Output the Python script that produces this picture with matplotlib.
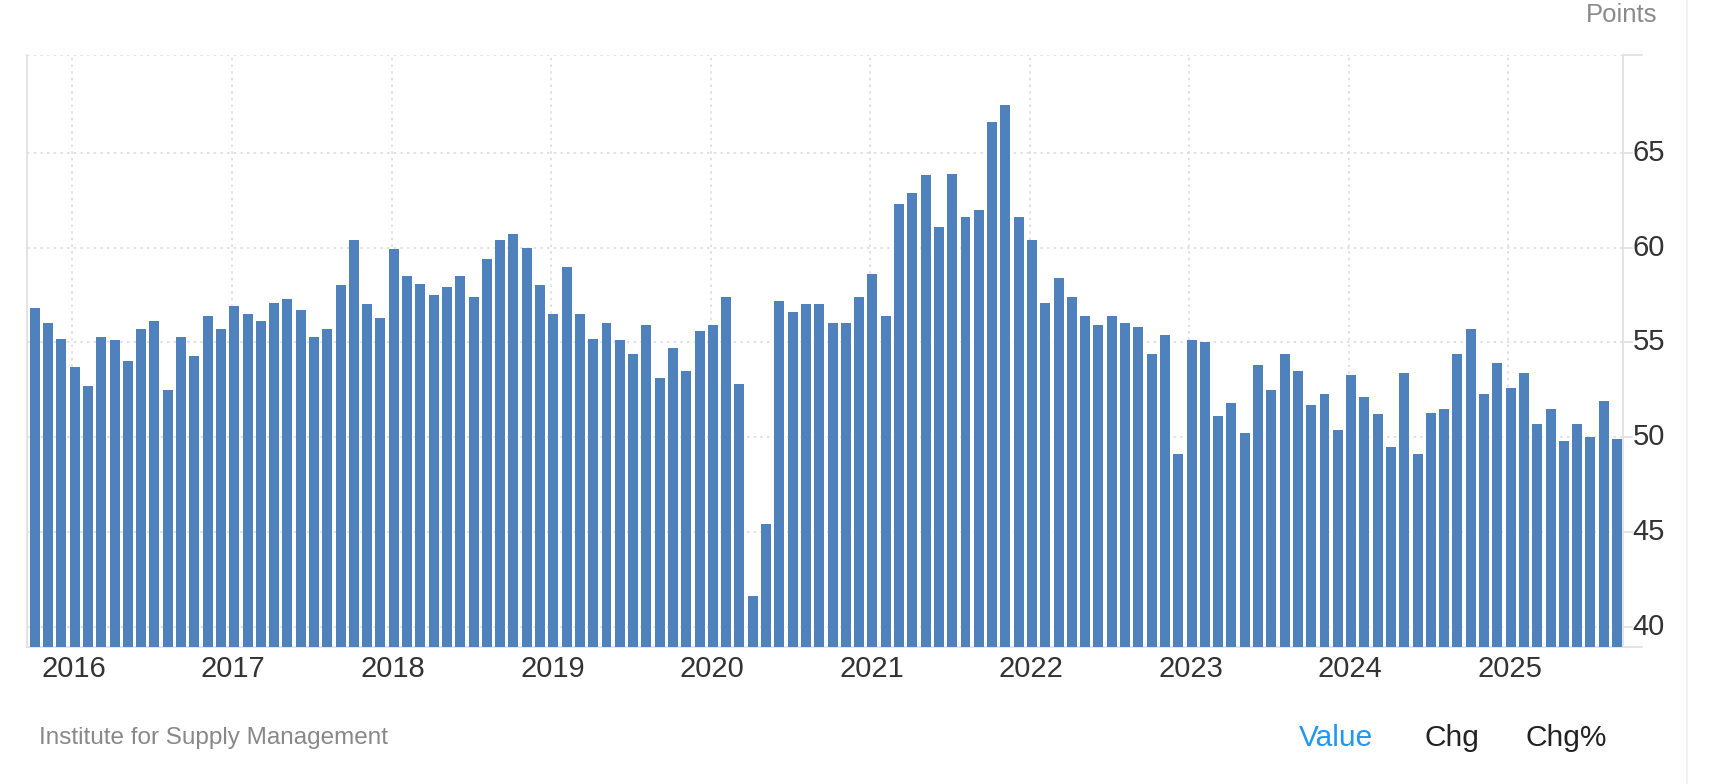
import numpy as np
import pandas as pd
import matplotlib
matplotlib.use("Agg")
import matplotlib.pyplot as plt
import matplotlib.transforms as mtransforms
from matplotlib.lines import Line2D

plt.rcParams['font.family'] = ['Liberation Sans', 'DejaVu Sans']

# ---- data ----
months = [str(p) for p in pd.period_range('2015-10', '2025-09', freq='M')]
values = [
    56.8, 56.0, 55.2,
    53.7, 52.7, 55.3, 55.1, 54.0, 55.7, 56.1, 52.5, 55.3, 54.3, 56.4, 55.7,
    56.9, 56.5, 56.1, 57.1, 57.3, 56.7, 55.3, 55.7, 58.0, 60.4, 57.0, 56.3,
    59.9, 58.5, 58.1, 57.5, 57.9, 58.5, 57.4, 59.4, 60.4, 60.7, 60.0, 58.0,
    56.5, 59.0, 56.5, 55.2, 56.0, 55.1, 54.4, 55.9, 53.1, 54.7, 53.5, 55.6,
    55.9, 57.4, 52.8, 41.6, 45.4, 57.2, 56.6, 57.0, 57.0, 56.0, 56.0, 57.4,
    58.6, 56.4, 62.3, 62.9, 63.8, 61.1, 63.9, 61.6, 62.0, 66.6, 67.5, 61.6,
    60.4, 57.1, 58.4, 57.4, 56.4, 55.9, 56.4, 56.0, 55.8, 54.4, 55.4, 49.1,
    55.1, 55.0, 51.1, 51.8, 50.2, 53.8, 52.5, 54.4, 53.5, 51.7, 52.3, 50.4,
    53.3, 52.1, 51.2, 49.5, 53.4, 49.1, 51.3, 51.5, 54.4, 55.7, 52.3, 53.9,
    52.6, 53.4, 50.7, 51.5, 49.8, 50.7, 50.0, 51.9, 49.9,
]
year_labels = ["2016", "2017", "2018", "2019", "2020", "2021", "2022", "2023", "2024", "2025"]
y_ticks = [40, 45, 50, 55, 60, 65]

# ---- figure ----
W, H = 1710, 784
fig = plt.figure(figsize=(W / 100, H / 100), dpi=100)
fig.patch.set_facecolor('white')

left, right, top, bottom = 26.8, 1623.0, 54.7, 646.7
ax = fig.add_axes([left / W, 1 - bottom / H, (right - left) / W, (bottom - top) / H])

x = np.arange(len(months))
ax.bar(x, values, width=0.75, color='#4f81bd', zorder=3, bottom=0)

ymin, ymax = 38.95, 70.17
ax.set_xlim(-0.6, 119.45)
ax.set_ylim(ymin, ymax)

grid_color = '#dcdcdc'
# year grid positions: January of each year
jan_idx = [months.index(f"{y}-01") for y in year_labels]
year_pos = [i - 0.17 for i in jan_idx]
for xp in year_pos:
    ax.axvline(xp, color=grid_color, lw=1.2, ls=(0, (1.5, 2.5)), zorder=1)
for yv in y_ticks + [ymax]:
    ax.axhline(yv, color=grid_color, lw=1.2, ls=(0, (1.5, 2.5)), zorder=1)

ax.set_xticks([])
ax.set_yticks([])
for s in ['top']:
    ax.spines[s].set_visible(False)
for s in ['left', 'right', 'bottom']:
    ax.spines[s].set_color('#e2e2e2')
    ax.spines[s].set_linewidth(1.3)

# x labels (years)
trans_x = mtransforms.blended_transform_factory(ax.transData, fig.transFigure)
for xp, lab in zip(year_pos, year_labels):
    fig.text(0, 0, '')
    ax.text(xp + 0.1, 1 - 676.7 / H, lab, transform=trans_x, ha='center', va='baseline',
            fontsize=21, color='#333333')

# y labels on the right + ticks
trans_y = mtransforms.blended_transform_factory(fig.transFigure, ax.transData)
for yv in y_ticks:
    ax.text(1632.7 / W, yv, str(yv), transform=trans_y, ha='left', va='center',
            fontsize=21, color='#333333')
    ax.add_line(Line2D([right / W, 1632.0 / W], [yv, yv], transform=trans_y,
                       color='#e2e2e2', lw=1.3, clip_on=False))
# top and bottom extension lines
fig.add_artist(Line2D([right / W, 1641.7 / W], [1 - top / H, 1 - top / H],
                      color='#e2e2e2', lw=1.3))
fig.add_artist(Line2D([right / W, 1641.7 / W], [1 - bottom / H, 1 - bottom / H],
                      color='#e2e2e2', lw=1.3))
# page border on the right
fig.add_artist(Line2D([1686.7 / W, 1686.7 / W], [0, 1], color='#f2f2f2', lw=1.5))

# texts
fig.text(1657.7 / W, 1 - 22.5 / H, 'Points', ha='right', va='baseline',
         fontsize=18.5, color='#8a8a8a')
fig.text(39.3 / W, 1 - 744 / H, 'Institute for Supply Management', ha='left', va='baseline',
         fontsize=17.5, color='#888888')
fig.text(1299.3 / W, 1 - 746 / H, 'Value', ha='left', va='baseline', fontsize=21.5, color='#2196f3')
fig.text(1424.3 / W, 1 - 746 / H, 'Chg', ha='left', va='baseline', fontsize=21.5, color='#222222')
fig.text(1525.7 / W, 1 - 746 / H, 'Chg%', ha='left', va='baseline', fontsize=21.5, color='#222222')

fig.savefig('out.png', dpi=100, facecolor='white')
